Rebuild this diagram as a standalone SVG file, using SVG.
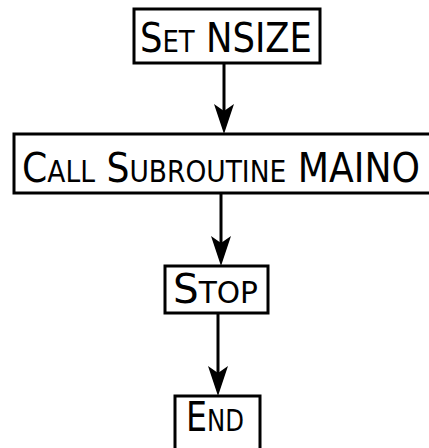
<svg xmlns="http://www.w3.org/2000/svg" width="429" height="448" viewBox="0 0 429 448">
<defs>
<style>
.box{fill:#fff;stroke:#000;stroke-width:3}
.t{font-family:"DejaVu Sans Condensed","DejaVu Sans",sans-serif;font-size:41px;fill:#000}
.s{font-size:30px}
.ln{stroke:#000;stroke-width:3;fill:none}
.ah{fill:#000}
</style>
</defs>
<rect width="429" height="448" fill="#fff"/>
<g id="connectors">
<line class="ln" x1="224" y1="63" x2="224" y2="120"/>
<line class="ln" x1="221" y1="193" x2="221" y2="250"/>
<line class="ln" x1="218" y1="313" x2="218" y2="380"/>
<path class="ah" d="M214,104 L224,111 L234,104 L224,134 Z"/>
<path class="ah" d="M211,236 L221,243 L231,236 L221,266 Z"/>
<path class="ah" d="M208,366 L218,373 L228,366 L218,396 Z"/>
</g>
<g id="set-nsize">
<rect class="box" x="134" y="9" width="186" height="54"/>
<text class="t" x="140" y="52" textLength="172" lengthAdjust="spacingAndGlyphs">S<tspan class="s">ET</tspan> NSIZE</text>
</g>
<g id="call">
<rect class="box" x="14" y="134" width="430" height="59"/>
<text class="t" x="22" y="182" textLength="398" lengthAdjust="spacingAndGlyphs">C<tspan class="s">ALL</tspan> S<tspan class="s">UBROUTINE</tspan> MAINO</text>
</g>
<g id="stop">
<rect class="box" x="165" y="266" width="103" height="47"/>
<text class="t" x="173" y="303" textLength="85" lengthAdjust="spacingAndGlyphs">S<tspan class="s">TOP</tspan></text>
</g>
<g id="end">
<rect class="box" x="175" y="396" width="85" height="60"/>
<text class="t" x="186" y="431" textLength="58" lengthAdjust="spacingAndGlyphs">E<tspan class="s">ND</tspan></text>
</g>
</svg>
